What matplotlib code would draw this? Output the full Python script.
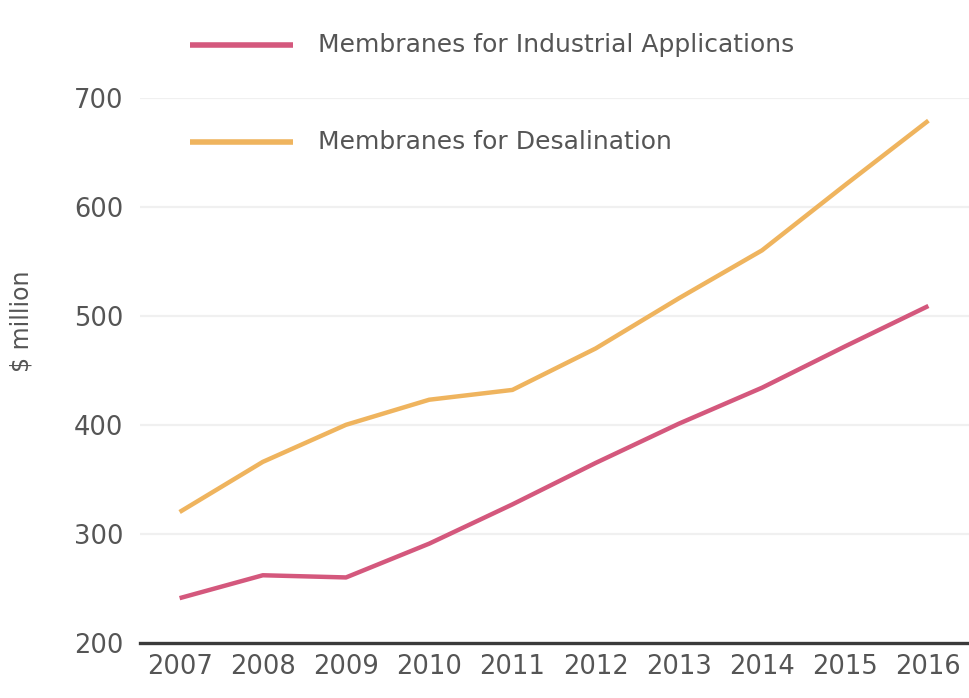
import matplotlib
matplotlib.use("Agg")
import matplotlib.pyplot as plt
from matplotlib.lines import Line2D

years = [2007, 2008, 2009, 2010, 2011, 2012, 2013, 2014, 2015, 2016]
industrial = [241, 262, 260, 291, 327, 365, 401, 434, 472, 509]
desalination = [320, 366, 400, 423, 432, 470, 516, 560, 620, 679]
series_names = ["Membranes for Industrial Applications", "Membranes for Desalination"]
y_ticks = [200, 300, 400, 500, 600, 700]

pink = "#d4587d"
gold = "#efb45e"
text_gray = "#555555"

plt.rcParams["font.family"] = ["DejaVu Sans"]

fig = plt.figure(figsize=(9.7, 6.98), dpi=100)
ax = fig.add_axes([0.144, 0.079, 0.856, 0.781])

ax.plot(years, industrial, color=pink, lw=3.2, solid_capstyle="butt", zorder=3)
ax.plot(years, desalination, color=gold, lw=3.2, solid_capstyle="butt", zorder=3)

ax.set_xlim(2006.52, 2016.5)
ax.set_ylim(200, 700)
ax.set_yticks(y_ticks)
ax.set_xticks(years)
ax.set_xticklabels([str(y) for y in years])

for v in y_ticks[1:]:
    ax.axhline(v, color="#f0f0f0", lw=1.6, zorder=1)
ax.axhline(200, color="#3a3a3a", lw=2.4, zorder=4, clip_on=False)

for s in ax.spines.values():
    s.set_visible(False)
ax.tick_params(axis="both", length=0, labelsize=18.5, colors=text_gray)
ax.tick_params(axis="y", pad=12)
ax.tick_params(axis="x", pad=8)

fig.text(0.022, 0.54, "$ million", rotation=90, ha="center", va="center",
         fontsize=17, color=text_gray)

# legend drawn in figure coordinates
W, H = 970.0, 698.0
for name, col, yp in [(series_names[0], pink, 45), (series_names[1], gold, 142)]:
    fig.add_artist(Line2D([190 / W, 293 / W], [1 - yp / H, 1 - yp / H],
                          color=col, lw=4.0, solid_capstyle="butt"))
    fig.text(318 / W, 1 - yp / H, name, ha="left", va="center",
             fontsize=18, color=text_gray)

fig.savefig("out.png", dpi=100, facecolor="white")
